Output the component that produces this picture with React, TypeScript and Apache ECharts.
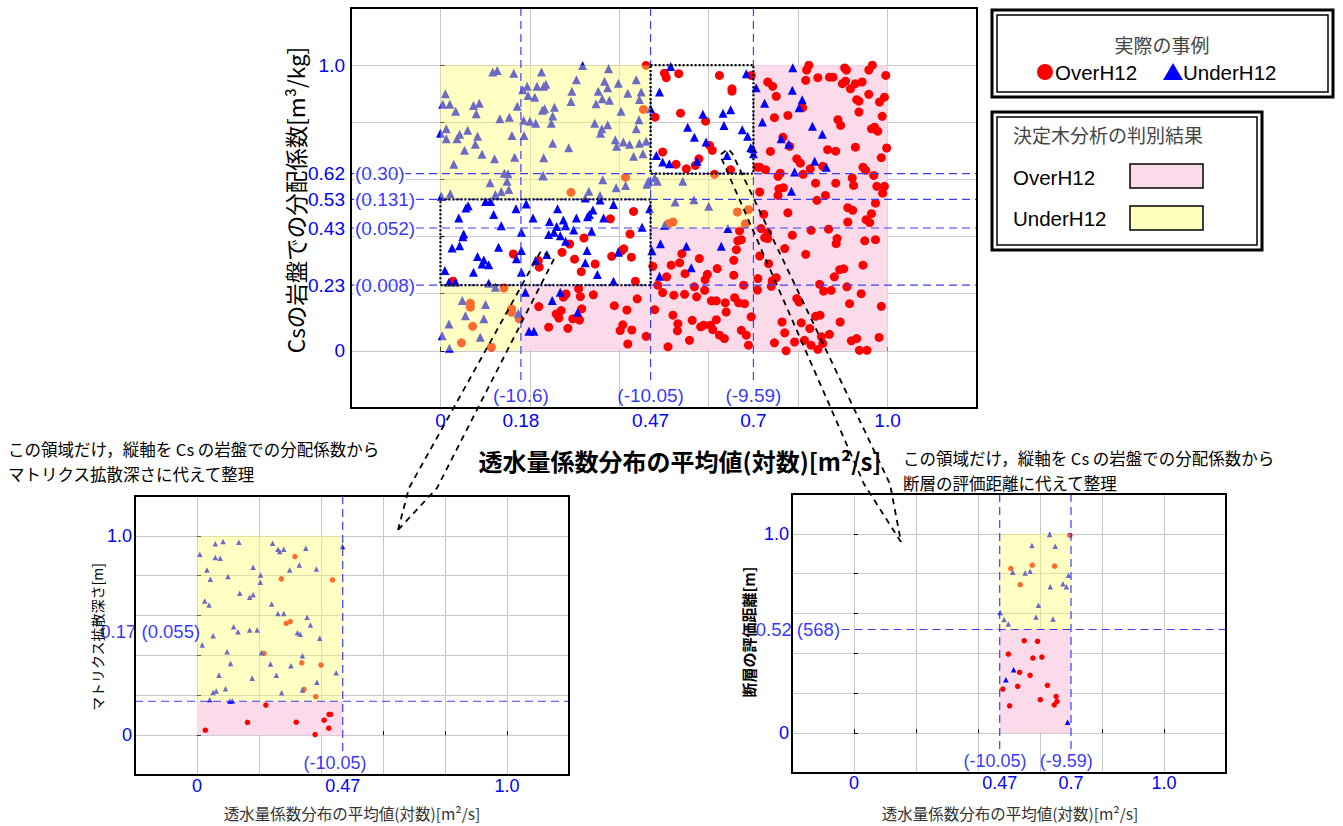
import React, { useEffect, useRef } from 'react';
import * as echarts from 'echarts';

// ---------------- DATA ----------------
// main plot: x = mean of transmissivity distribution (normalised), y = Cs distribution coefficient (normalised)
const mainOver: number[][] = [
  [0.460,0.999],[0.454,0.845],[0.414,0.608],[0.292,0.555],
  [0.163,0.339],[0.219,0.316],[0.221,0.293],[0.028,0.244],[0.432,0.488],[0.380,0.462],[0.321,0.395],[0.289,0.374],[0.424,0.409],[0.410,0.357],[0.404,0.349],[0.272,0.345],[0.383,0.331],[0.427,0.328],[0.300,0.321],[0.346,0.304],[0.315,0.277],[0.436,0.244],
  [0.067,0.167],[0.067,0.153],[0.072,0.086],[0.047,0.028],[0.114,0.013],[0.159,0.147],[0.159,0.135],[0.176,0.112],[0.142,0.220],
  [0.220,0.155],[0.281,0.199],[0.275,0.188],[0.309,0.217],[0.313,0.190],[0.342,0.196],[0.259,0.129],[0.270,0.141],[0.265,0.115],[0.316,0.147],[0.296,0.112],[0.311,0.108],[0.242,0.083],[0.285,0.079],[0.389,0.158],[0.417,0.143],[0.440,0.182],[0.408,0.091],[0.402,0.071],[0.428,0.073],[0.419,0.024],[0.460,0.051],
  [0.510,0.445],[0.520,0.451],[0.664,0.486],[0.689,0.494],[0.682,0.445],[0.613,0.618],
  [0.501,0.972],[0.505,0.956],[0.533,0.970],[0.624,0.964],[0.652,0.917],[0.652,0.909],[0.537,0.832],[0.480,0.818],[0.593,0.804],[0.602,0.719],[0.608,0.702],[0.497,0.696],[0.578,0.672],[0.570,0.649],[0.527,0.653],[0.550,0.637],[0.649,0.634],[0.695,0.964],
  [0.669,0.420],[0.673,0.389],[0.665,0.385],[0.540,0.340],[0.579,0.323],[0.662,0.354],[0.656,0.317],[0.535,0.308],[0.516,0.300],[0.475,0.296],[0.619,0.288],[0.597,0.268],[0.547,0.270],[0.592,0.249],[0.656,0.265],[0.506,0.259],[0.486,0.230],[0.678,0.230],[0.568,0.224],[0.591,0.212],[0.497,0.204],[0.522,0.195],[0.546,0.198],[0.573,0.189],[0.606,0.175],[0.617,0.175],[0.637,0.168],[0.658,0.186],[0.667,0.168],[0.680,0.165],[0.639,0.136],[0.479,0.144],[0.520,0.125],[0.531,0.095],[0.530,0.070],[0.563,0.107],[0.582,0.084],[0.589,0.090],[0.604,0.090],[0.609,0.074],[0.617,0.109],[0.624,0.055],[0.635,0.043],[0.673,0.072],[0.684,0.055],[0.695,0.119],[0.557,0.037],[0.509,0.014],[0.689,0.020],[0.709,0.643],[0.709,0.213],
  [0.824,1.000],[0.966,1.000],[0.819,0.983],[0.904,0.990],[0.908,0.983],[0.958,0.983],[0.996,0.964],[0.732,0.941],[0.743,0.926],[0.817,0.947],[0.844,0.956],[0.870,0.958],[0.878,0.958],[0.899,0.935],[0.906,0.944],[0.917,0.917],[0.928,0.935],[0.943,0.941],[0.958,0.898],[0.751,0.891],[0.931,0.879],[0.936,0.874],[0.982,0.871],[0.993,0.888],[0.810,0.851],[0.936,0.836],[0.777,0.824],[0.747,0.816],[0.988,0.821],[0.889,0.809],[0.895,0.789],[0.964,0.777],[0.971,0.783],[0.978,0.769],[0.766,0.748],[0.781,0.716],[0.738,0.698],[0.866,0.704],[0.884,0.699],[0.928,0.713],[0.998,0.710],[0.986,0.676],[0.797,0.672],[0.805,0.657],[0.714,0.643],[0.727,0.634],[0.755,0.611],[0.760,0.622],[0.811,0.618],[0.827,0.637],[0.855,0.646],[0.945,0.643],[0.951,0.632],[0.969,0.614],[0.921,0.605],[0.839,0.587],[0.884,0.587],[0.924,0.579],[0.976,0.576],[0.993,0.576],[0.989,0.552],[0.757,0.567],[0.767,0.571],[0.755,0.544],[0.714,0.556],[0.861,0.544],[0.842,0.527],[0.973,0.517],[0.777,0.483],[0.723,0.478],[0.911,0.501],[0.922,0.492],[0.964,0.480],[0.911,0.451],[0.952,0.459],[0.960,0.449],[0.717,0.428],[0.732,0.413],[0.725,0.396],[0.732,0.393],[0.829,0.422],[0.868,0.426],[0.787,0.405],[0.887,0.393],[0.885,0.375],[0.949,0.385],[0.973,0.389],[0.770,0.358],[0.714,0.332],[0.817,0.338],[0.734,0.305],[0.945,0.300],[0.893,0.284],[0.902,0.287],[0.881,0.259],[0.751,0.256],[0.742,0.245],[0.710,0.253],[0.848,0.233],[0.909,0.224],[0.740,0.226],[0.857,0.209],[0.874,0.212],[0.941,0.200],[0.915,0.165],[0.986,0.156],[0.797,0.183],[0.802,0.171],[0.839,0.121],[0.849,0.125],[0.764,0.101],[0.807,0.098],[0.894,0.101],[0.826,0.078],[0.770,0.063],[0.870,0.058],[0.852,0.049],[0.931,0.043],[0.919,0.035],[0.981,0.047],[0.747,0.028],[0.792,0.031],[0.814,0.037],[0.829,0.020],[0.855,0.026],[0.773,0.000],[0.844,0.005],[0.937,0.002],[0.954,0.002]
];
const mainUnder: number[][] = [
  [0.117,0.976],[0.127,0.981],[0.164,0.972],[0.226,0.976],[0.011,0.900],[0.005,0.863],[0.021,0.863],[0.034,0.839],[0.074,0.859],[0.087,0.867],[0.080,0.830],[0.133,0.812],[0.154,0.818],[0.172,0.856],[0.184,0.914],[0.194,0.926],[0.196,0.894],[0.211,0.888],[0.216,0.926],[0.231,0.926],[0.228,0.842],[0.186,0.807],[0.200,0.804],[0.213,0.797],[0.000,0.762],[0.013,0.777],[0.013,0.742],[0.043,0.758],[0.061,0.772],[0.037,0.742],[0.083,0.751],[0.078,0.723],[0.054,0.702],[0.093,0.688],[0.030,0.653],[0.121,0.672],[0.160,0.754],[0.166,0.678],[0.187,0.754],[0.143,0.622],[0.151,0.620],[0.111,0.588],[0.149,0.594],[0.153,0.565],[0.136,0.558],[0.123,0.547],[0.002,0.541],[0.022,0.550],[0.229,0.614],
  [0.318,0.999],[0.376,0.987],[0.304,0.949],[0.236,0.933],[0.367,0.944],[0.398,0.937],[0.438,0.949],[0.374,0.921],[0.294,0.909],[0.353,0.909],[0.419,0.902],[0.449,0.906],[0.362,0.882],[0.378,0.877],[0.445,0.880],[0.292,0.873],[0.348,0.865],[0.255,0.853],[0.233,0.847],[0.251,0.822],[0.404,0.839],[0.444,0.809],[0.248,0.797],[0.345,0.797],[0.374,0.791],[0.361,0.777],[0.358,0.762],[0.438,0.777],[0.391,0.739],[0.409,0.731],[0.394,0.716],[0.423,0.723],[0.445,0.727],[0.460,0.734],[0.251,0.727],[0.287,0.711],[0.432,0.681],[0.453,0.690],[0.231,0.676],[0.230,0.612],[0.363,0.599],[0.393,0.571],[0.414,0.579],[0.332,0.559],[0.357,0.544],[0.462,0.583],[0.466,0.594],
  [0.062,0.508],[0.057,0.500],[0.101,0.523],[0.112,0.523],[0.169,0.497],[0.192,0.514],[0.041,0.465],[0.119,0.477],[0.136,0.438],[0.207,0.465],[0.181,0.415],[0.052,0.409],[0.050,0.399],[0.026,0.360],[0.043,0.368],[0.130,0.363],[0.083,0.330],[0.097,0.318],[0.093,0.304],[0.108,0.301],[0.074,0.275],[0.010,0.281],[0.181,0.351],[0.170,0.322],[0.181,0.275],[0.213,0.316],[0.019,0.240],[0.034,0.240],[0.108,0.237],[0.123,0.223],
  [0.262,0.497],[0.341,0.493],[0.333,0.477],[0.329,0.469],[0.387,0.512],[0.357,0.528],[0.324,0.535],[0.244,0.453],[0.275,0.458],[0.304,0.465],[0.365,0.465],[0.260,0.435],[0.280,0.438],[0.254,0.415],[0.242,0.407],[0.268,0.403],[0.298,0.423],[0.338,0.419],[0.280,0.384],[0.328,0.351],[0.238,0.337],[0.398,0.345],[0.324,0.308],[0.351,0.267],[0.387,0.244],[0.451,0.433],[0.468,0.497],
  [0.049,0.176],[0.101,0.162],[0.056,0.123],[0.097,0.112],[0.019,0.094],[0.089,0.048],[0.004,0.053],[0.020,0.009],[0.174,0.132],
  [0.190,0.205],[0.198,0.069],[0.209,0.069],[0.268,0.205],[0.250,0.176],[0.307,0.135],
  [0.464,0.591],[0.479,0.606],[0.485,0.594],[0.542,0.594],[0.525,0.521],[0.567,0.529],[0.600,0.506],[0.501,0.440],
  [0.515,0.995],[0.684,0.970],[0.490,0.906],[0.587,0.828],[0.632,0.832],[0.649,0.844],[0.553,0.783],[0.634,0.789],[0.568,0.748],[0.675,0.774],[0.687,0.751],[0.594,0.731],[0.694,0.711],[0.483,0.684],[0.497,0.661],[0.512,0.655],[0.574,0.664],[0.641,0.684],[0.470,0.847],
  [0.643,0.428],[0.492,0.375],[0.550,0.366],[0.628,0.366],[0.473,0.350],[0.561,0.291],[0.490,0.261],
  [0.788,0.991],[0.706,0.921],[0.787,0.912],[0.725,0.867],[0.809,0.879],[0.802,0.851],[0.720,0.801],[0.832,0.786],[0.854,0.758],[0.762,0.742],[0.779,0.723],[0.699,0.707],[0.700,0.690],[0.837,0.664],[0.863,0.643],[0.792,0.626],[0.785,0.559]
];
// lower-left plot: y = matrix diffusion depth (normalised)
const leftOver: number[][] = [
  [0.316,0.896],[0.272,0.784],[0.437,0.779],[0.288,0.561],[0.301,0.570],[0.216,0.410],[0.338,0.363],[0.400,0.352],[0.345,0.229],[0.383,0.193],
  [0.222,0.151],[0.027,0.025],[0.163,0.064],[0.320,0.065],[0.381,0.003],[0.410,0.075],[0.426,0.104],[0.431,0.104],[0.425,0.035]
];
const leftUnder: number[][] = [
  [0.009,0.908],[0.032,0.829],[0.043,0.782],[0.059,0.960],[0.084,0.972],[0.059,0.891],[0.075,0.888],[0.135,0.968],[0.100,0.796],[0.181,0.843],[0.205,0.804],[0.204,0.767],[0.244,0.963],[0.261,0.933],[0.267,0.921],[0.280,0.933],[0.351,0.938],[0.299,0.829],[0.330,0.854],[0.385,0.834],[0.469,0.946],
  [0.025,0.673],[0.039,0.653],[0.138,0.712],[0.170,0.692],[0.181,0.704],[0.241,0.658],[0.261,0.611],[0.280,0.611],[0.355,0.591],[0.366,0.553],[0.118,0.544],[0.132,0.519],[0.052,0.499],[0.170,0.528],[0.194,0.528],[0.324,0.514],[0.333,0.506],[0.396,0.486],[0.017,0.452],[0.097,0.419],[0.208,0.414],[0.340,0.399],[0.108,0.360],[0.237,0.357],[0.303,0.348],[0.071,0.300],[0.178,0.285],[0.256,0.300],[0.449,0.313],[0.387,0.265],[0.052,0.214],[0.062,0.221],[0.092,0.233],[0.273,0.213],[0.340,0.226],[0.041,0.179],[0.106,0.171],[0.114,0.173]
];
// lower-right plot: y = evaluated distance to fault (normalised)
const rightOver: number[][] = [
  [0.696,0.992],[0.506,0.826],[0.575,0.843],[0.647,0.838],[0.536,0.745],
  [0.549,0.464],[0.592,0.461],[0.498,0.397],[0.577,0.377],[0.606,0.382],[0.534,0.305],[0.568,0.290],[0.480,0.221],[0.528,0.235],[0.624,0.240],[0.601,0.168],[0.652,0.184],[0.655,0.159],[0.646,0.142],[0.502,0.137]
];
const rightUnder: number[][] = [
  [0.631,0.997],[0.574,0.941],[0.649,0.938],[0.512,0.807],[0.552,0.804],[0.568,0.812],[0.692,0.792],[0.633,0.734],[0.674,0.750],[0.685,0.734],[0.595,0.642],[0.472,0.606],[0.484,0.570],[0.498,0.548],[0.587,0.583],[0.642,0.573],
  [0.515,0.318],[0.490,0.268],[0.689,0.055]
];

// decision-tree regions [x0, y0, x1, y1]
const mainPinkRegions = [[0.18,0,0.47,0.23],[0.47,0,0.7,0.43],[0.7,0,1.0,1.0]];
const mainYellowRegions = [[0,0.53,0.47,1.0],[0,0,0.18,0.23],[0.47,0.43,0.7,0.62]];
const mainDottedBoxes = [[0,0.23,0.47,0.53],[0.47,0.62,0.7,1.0]];
const leftPinkRegions = [[0,0,0.47,0.17]];
const leftYellowRegions = [[0,0.17,0.47,1.0]];
const rightPinkRegions = [[0.47,0,0.7,0.52]];
const rightYellowRegions = [[0.47,0.52,0.7,1.0]];

// thresholds and labels
const mainXSplits = [0.18, 0.47, 0.7];
const mainXSplitLabels = ['(-10.6)', '(-10.05)', '(-9.59)'];
const mainYSplits = [0.23, 0.43, 0.53, 0.62];
const mainYSplitLabels = ['(0.008)', '(0.052)', '(0.131)', '(0.30)'];
const mainXTicks = [0, 0.18, 0.47, 0.7, 1.0];
const mainXTickLabels = ['0', '0.18', '0.47', '0.7', '1.0'];
const mainYTicks = [0, 0.23, 0.43, 0.53, 0.62, 1.0];
const mainYTickLabels = ['0', '0.23', '0.43', '0.53', '0.62', '1.0'];
const leftXSplits = [0.47];
const leftXSplitLabels = ['(-10.05)'];
const leftYSplit = 0.17;
const leftYSplitLabel = '0.17 (0.055)';
const leftXTicks = [0, 0.47, 1.0];
const leftXTickLabels = ['0', '0.47', '1.0'];
const subYTicks = [0, 1.0];
const subYTickLabels = ['0', '1.0'];
const rightXSplits = [0.47, 0.7];
const rightXSplitLabels = ['(-10.05)', '(-9.59)'];
const rightYSplit = 0.52;
const rightYSplitLabel = '0.52 (568)';
const rightXTicks = [0, 0.47, 0.7, 1.0];
const rightXTickLabels = ['0', '0.47', '0.7', '1.0'];

const xTitle = '透水量係数分布の平均値(対数)[m²/s]';
const mainYTitle = 'Csの岩盤での分配係数[m³/kg]';
const leftYTitle = 'マトリクス拡散深さ[m]';
const rightYTitle = '断層の評価距離[m]';
const noteLeft = ['この領域だけ，縦軸を Cs の岩盤での分配係数から', 'マトリクス拡散深さに代えて整理'];
const noteRight = ['この領域だけ，縦軸を Cs の岩盤での分配係数から', '断層の評価距離に代えて整理'];

// ---------------- STYLE ----------------
const LAT = '"Liberation Sans", Arial, sans-serif';
const CJK = '"Noto Sans CJK JP", "Liberation Sans", sans-serif';
const BLUE_TXT = '#0000ff';
const DASH_BLUE = '#3c3cff';
const PINK = '#fbdbe9';
const YELLOW = '#ffff70';
const YELLOW_OP = 0.42;

const lookup = (vals: number[], labels: string[]) => (v: number) => {
  const i = vals.findIndex((t) => Math.abs(t - v) < 1e-6);
  return i >= 0 ? labels[i] : '';
};

function axisPair(g: number, xt: number[], xl: string[], yt: number[], yl: string[], fs: number, xMargin: number, yMargin: number) {
  const common = {
    type: 'value', min: -0.2, max: 1.2, interval: 0.2, gridIndex: g,
    axisLine: { show: false },
    axisTick: { show: true, inside: true, length: 4, lineStyle: { color: '#000' } },
    splitLine: { show: true, lineStyle: { color: '#c8c8c8', width: 1 } },
  };
  return {
    x: { ...common, axisLabel: { customValues: xt, formatter: lookup(xt, xl), color: BLUE_TXT, fontSize: fs, fontFamily: LAT, margin: xMargin, hideOverlap: false } },
    y: { ...common, axisLabel: { customValues: yt, formatter: lookup(yt, yl), color: BLUE_TXT, fontSize: fs, fontFamily: LAT, margin: yMargin, hideOverlap: false } },
  };
}

function rectSeries(g: number, regions: number[][], style: any, z: number) {
  return {
    type: 'custom', xAxisIndex: g, yAxisIndex: g, z, silent: true, clip: true,
    data: regions,
    encode: { x: [0, 2], y: [1, 3] },
    renderItem: (_p: any, api: any) => {
      const a = api.coord([api.value(0), api.value(3)]);
      const b = api.coord([api.value(2), api.value(1)]);
      return { type: 'rect', shape: { x: a[0], y: a[1], width: b[0] - a[0], height: b[1] - a[1] }, style };
    },
  };
}

function dashLine(g: number, pts: number[][], color: string) {
  return {
    type: 'line', xAxisIndex: g, yAxisIndex: g, z: 4, silent: true, symbol: 'none',
    data: pts, lineStyle: { color, width: 1.2, type: [8, 5] },
  };
}

function labelSeries(g: number, items: { name: string; value: number[] }[], label: any) {
  return {
    type: 'scatter', xAxisIndex: g, yAxisIndex: g, z: 6, silent: true, symbolSize: 0,
    data: items, label: { show: true, formatter: '{b}', color: BLUE_TXT, fontFamily: LAT, ...label },
  };
}

function scatter(g: number, data: number[][], kind: 'over' | 'under', size: number) {
  return {
    type: 'scatter', xAxisIndex: g, yAxisIndex: g, z: 2, silent: true,
    data,
    symbol: kind === 'over' ? 'circle' : 'triangle',
    symbolSize: size,
    itemStyle: { color: kind === 'over' ? '#ff0000' : '#0000ff', opacity: 1 },
  };
}

export default function App() {
  const ref = useRef<HTMLDivElement>(null);
  useEffect(() => {
    if (!ref.current) return;
    const chart = echarts.init(ref.current, undefined, { renderer: 'svg' });
    const m = axisPair(0, mainXTicks, mainXTickLabels, mainYTicks, mainYTickLabels, 19, 3, 6);
    const l = axisPair(1, leftXTicks, leftXTickLabels, subYTicks, subYTickLabels, 18, 2, 3);
    const r = axisPair(2, rightXTicks, rightXTickLabels, subYTicks, subYTickLabels, 18, 1, 3);
    const yellowStyle = { fill: YELLOW, opacity: YELLOW_OP };
    const pinkStyle = { fill: PINK };
    const dotted = { fill: 'none', stroke: '#000', lineWidth: 2.2, lineDash: [2, 2] };

    const series: any[] = [
      // main
      rectSeries(0, mainPinkRegions, pinkStyle, 1),
      scatter(0, mainOver, 'over', 9),
      scatter(0, mainUnder, 'under', 9),
      rectSeries(0, mainYellowRegions, yellowStyle, 3),
      rectSeries(0, mainDottedBoxes, dotted, 5),
      ...mainXSplits.map((x) => dashLine(0, [[x, 1.2], [x, -0.12]], DASH_BLUE)),
      ...mainYSplits.map((y) => dashLine(0, [[-0.2, y], [1.2, y]], DASH_BLUE)),
      labelSeries(0, mainXSplits.map((x, i) => ({ name: mainXSplitLabels[i], value: [x, -0.157] })), { position: 'inside', fontSize: 19 }),
      labelSeries(0, mainYSplits.map((y, i) => ({ name: mainYSplitLabels[i], value: [-0.2, y] })), { position: 'right', distance: 3, fontSize: 19, backgroundColor: '#fff', padding: [0, 1] }),
      // lower left
      rectSeries(1, leftPinkRegions, pinkStyle, 1),
      scatter(1, leftOver, 'over', 5.5),
      scatter(1, leftUnder, 'under', 5.5),
      rectSeries(1, leftYellowRegions, yellowStyle, 3),
      ...leftXSplits.map((x) => dashLine(1, [[x, 1.2], [x, -0.09]], DASH_BLUE)),
      dashLine(1, [[-0.2, leftYSplit], [1.2, leftYSplit]], DASH_BLUE),
      labelSeries(1, leftXSplits.map((x, i) => ({ name: leftXSplitLabels[i], value: [x - 0.025, -0.14] })), { position: 'inside', fontSize: 18 }),
      labelSeries(1, [{ name: leftYSplitLabel, value: [0.01, 0.52] }], { position: 'left', distance: 0, fontSize: 18.5 }),
      // lower right
      rectSeries(2, rightPinkRegions, pinkStyle, 1),
      scatter(2, rightOver, 'over', 5.5),
      scatter(2, rightUnder, 'under', 5.5),
      rectSeries(2, rightYellowRegions, yellowStyle, 3),
      ...rightXSplits.map((x) => dashLine(2, [[x, 1.2], [x, -0.09]], DASH_BLUE)),
      dashLine(2, [[-0.04, rightYSplit], [1.2, rightYSplit]], DASH_BLUE),
      labelSeries(2, rightXSplits.map((x, i) => ({ name: rightXSplitLabels[i], value: [x - 0.015, -0.14] })), { position: 'inside', fontSize: 18 }),
      labelSeries(2, [{ name: rightYSplitLabel, value: [-0.045, 0.52] }], { position: 'left', distance: 0, fontSize: 18.5 }),
    ];

    const T = (text: string, x: number, y: number, font: string, fill: string, align = 'left', rotation = 0) => ({
      type: 'text', x, y, rotation, silent: true, z: 100,
      style: { text, font, fill, align, textAlign: align, verticalAlign: 'middle', textVerticalAlign: 'middle' },
    });
    const dashStyle = { stroke: '#000', lineWidth: 1.8, lineDash: [6, 5], fill: 'none' };

    const graphic: any[] = [
      // legend box 1
      { type: 'rect', shape: { x: 992, y: 10, width: 341, height: 87 }, style: { fill: '#fff', stroke: '#000', lineWidth: 3 }, z: 90 },
      { type: 'rect', shape: { x: 997, y: 15, width: 331, height: 77 }, style: { fill: 'none', stroke: '#000', lineWidth: 1.5 }, z: 91 },
      T('実際の事例', 1162, 44, `19px ${CJK}`, '#444', 'center'),
      { type: 'circle', shape: { cx: 1045, cy: 72, r: 8 }, style: { fill: '#ff0000' }, z: 100 },
      T('OverH12', 1055, 72, `20.5px ${LAT}`, '#000'),
      { type: 'polygon', shape: { points: [[1163, 80], [1183, 80], [1173, 63]] }, style: { fill: '#0000ff' }, z: 100 },
      T('UnderH12', 1183, 72, `20.5px ${LAT}`, '#000'),
      // legend box 2
      { type: 'rect', shape: { x: 992, y: 112, width: 270, height: 138 }, style: { fill: '#fff', stroke: '#000', lineWidth: 3 }, z: 90 },
      { type: 'rect', shape: { x: 997, y: 117, width: 260, height: 128 }, style: { fill: 'none', stroke: '#000', lineWidth: 1.5 }, z: 91 },
      T('決定木分析の判別結果', 1013, 134, `19px ${CJK}`, '#444'),
      T('OverH12', 1013, 177, `20.5px ${LAT}`, '#000'),
      { type: 'rect', shape: { x: 1130, y: 164, width: 73, height: 24 }, style: { fill: PINK, stroke: '#000', lineWidth: 1.5 }, z: 100 },
      T('UnderH12', 1013, 218, `20.5px ${LAT}`, '#000'),
      { type: 'rect', shape: { x: 1130, y: 206, width: 73, height: 24 }, style: { fill: '#ffffbe', stroke: '#000', lineWidth: 1.5 }, z: 100 },
      // titles
      T(mainYTitle, 295, 200, `22.5px ${CJK}`, '#000', 'center', Math.PI / 2),
      T(xTitle, 680, 460, `bold 24px ${CJK}`, '#000', 'center'),
      T(xTitle, 352, 813, `15.5px ${CJK}`, '#333', 'center'),
      T(xTitle, 1010, 813, `15.5px ${CJK}`, '#333', 'center'),
      T(leftYTitle, 97, 637, `14px ${CJK}`, '#000', 'center', Math.PI / 2),
      T(rightYTitle, 748, 632, `bold 15px ${CJK}`, '#000', 'center', Math.PI / 2),
      // notes
      T(noteLeft[0], 8, 449, `16.5px ${CJK}`, '#000'),
      T(noteLeft[1], 8, 474, `16.5px ${CJK}`, '#000'),
      T(noteRight[0], 903, 458, `16.5px ${CJK}`, '#000'),
      T(noteRight[1], 903, 483, `16.5px ${CJK}`, '#000'),
      // arrows
      { type: 'polyline', z: 95, silent: true, shape: { points: [[398, 530], [409, 488], [537, 258], [541, 251], [554, 259], [437, 488], [398, 530]] }, style: dashStyle },
      { type: 'polyline', z: 95, silent: true, shape: { points: [[901, 542], [864, 484], [720, 155], [728, 149], [732, 153], [890, 484], [901, 542]] }, style: dashStyle },
    ];

    chart.setOption({
      animation: false,
      backgroundColor: '#fff',
      grid: [
        { left: 351, top: 8, width: 626, height: 400, show: true, borderColor: '#000', borderWidth: 2, backgroundColor: 'transparent', z: 10 },
        { left: 135, top: 496, width: 434, height: 279, show: true, borderColor: '#000', borderWidth: 2, z: 10 },
        { left: 792, top: 494, width: 434, height: 279, show: true, borderColor: '#000', borderWidth: 2, z: 10 },
      ],
      xAxis: [m.x, l.x, r.x],
      yAxis: [m.y, l.y, r.y],
      series,
      graphic,
    });
    return () => chart.dispose();
  }, []);
  return <div ref={ref} style={{ position: 'fixed', left: 0, top: 0, width: 1343, height: 826, background: '#fff' }} />;
}
